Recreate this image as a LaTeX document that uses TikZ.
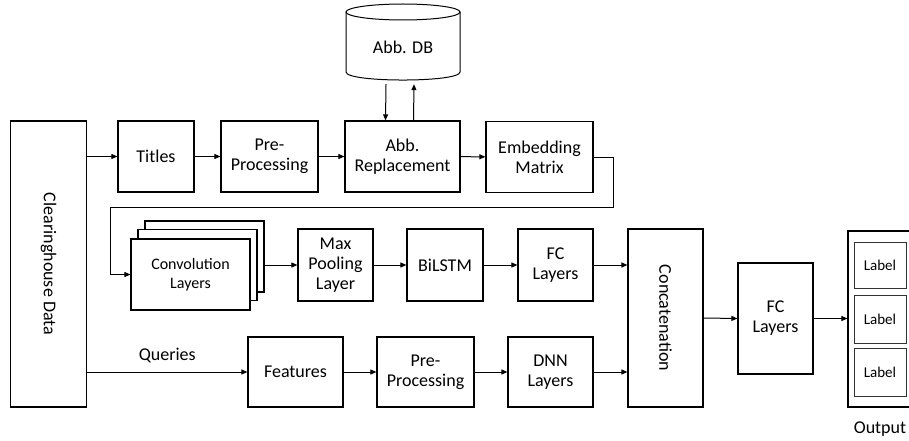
\documentclass[tikz,border=0pt]{standalone}
\usepackage{fontspec}
\setmainfont{Carlito}
\usetikzlibrary{arrows.meta,calc}
\begin{document}
\begin{tikzpicture}[x=1pt,y=-1pt,
  box/.style={draw=black,line width=1.2pt,fill=white,align=center,inner sep=0pt,
    font=\fontsize{18}{20}\selectfont},
  conv/.style={box,minimum width=119pt,minimum height=71pt,font=\fontsize{16}{19}\selectfont},
  lbl/.style={draw=black!80,line width=1pt,minimum width=52pt,inner sep=0pt,font=\fontsize{15}{18}\selectfont},
  arr/.style={line width=1pt,-{Triangle[length=6pt,width=5pt]}},
  ln/.style={line width=1pt},
  txt/.style={font=\fontsize{18}{20}\selectfont,inner sep=0pt}]
\useasboundingbox (0,0) rectangle (909,441);
\fill[white] (0,0) rectangle (909,441);

% left data box
\node[box,rotate=-90,minimum width=286pt,minimum height=76pt] (ch) at (48.5,264) {Clearinghouse Data};

% top row
\node[box,minimum width=76pt,minimum height=71pt] (titles) at (156,156.5) {Titles};
\node[box,minimum width=97pt,minimum height=71pt] (pre1) at (269.5,156.5) {Pre-\\Processing};
\node[box,minimum width=115pt,minimum height=71pt] (abbr) at (402.5,156.5) {Abb.\\Replacement};
\node[box,minimum width=107pt,minimum height=71pt] (emb) at (539.5,157) {Embedding\\Matrix};

% database cylinder
\node[minimum width=114pt,minimum height=76pt,inner sep=0pt] (db) at (403,42) {};
\draw[line width=1pt,fill=white] (346,12) -- (346,72) .. controls (346,82.7) and (460,82.7) .. (460,72) -- (460,12);
\draw[line width=1pt] (403,12) ellipse [x radius=57,y radius=8];
\node[txt] (dbt) at (403,47) {Abb. DB};

\draw[arr] ([xshift=-17pt,yshift=-4pt]db.south) -- ([xshift=-17pt]abbr.north);
\draw[arr] ([xshift=11pt]abbr.north) -- ([xshift=11pt,yshift=-4pt]db.south);

\draw[arr] (ch.north |- titles.west) -- (titles.west);
\draw[arr] (titles) -- (pre1);
\draw[arr] (pre1) -- (abbr);
\draw[arr] (abbr) -- (emb);

% feedback connector
\coordinate (fb1) at (613,207);
\coordinate (fb2) at (110,207);

% conv stack
\node[conv] (conv3) at (204.5,256.5) {};
\node[conv] (conv2) at (197.5,265) {};
\node[conv] (conv1) at (190.5,274.5) {Convolution\\Layers};
\draw[arr] (emb.east) -| (fb1) -- (fb2) |- (conv1.west);

% middle row
\node[box,minimum width=75pt,minimum height=72pt] (maxp) at (335.5,265) {Max\\Pooling\\Layer};
\node[box,minimum width=76pt,minimum height=72pt] (bilstm) at (445,265) {BiLSTM};
\node[box,minimum width=75pt,minimum height=72pt] (fc1) at (555.5,265) {FC\\Layers};
\draw[arr] (conv3.east |- maxp.west) -- (maxp.west);
\draw[arr] (maxp) -- (bilstm);
\draw[arr] (bilstm) -- (fc1);

% concat
\node[box,rotate=-90,minimum width=178pt,minimum height=75pt] (concat) at (665.5,318) {Concatenation};
\draw[arr] (fc1.east) -- (concat.south |- fc1.east);

% bottom row
\node[box,minimum width=95pt,minimum height=70pt] (feat) at (295.5,372) {Features};
\node[box,minimum width=97pt,minimum height=70pt] (pre2) at (425.5,372) {Pre-\\Processing};
\node[box,minimum width=85pt,minimum height=70pt] (dnn) at (550.5,372) {DNN\\Layers};
\draw[arr] (ch.north |- feat.west) -- node[txt,above=9pt]{Queries} (feat.west);
\draw[arr] (feat) -- (pre2);
\draw[arr] (pre2) -- (dnn);
\draw[arr] (dnn.east) -- (concat.south |- dnn.east);

% FC and output
\node[box,minimum width=75pt,minimum height=111pt] (fc2) at (775.5,318.5) {FC\\Layers};
\draw[arr] (concat.north) -- (fc2.west);
\node[draw=black,line width=1.2pt,minimum width=66pt,minimum height=176pt,inner sep=0pt] (out) at (881,319) {};
\draw[arr] (fc2.east) -- (out.west |- fc2.east);
\node[lbl,minimum height=46pt] (lab1) at (880,265) {Label};
\node[lbl,minimum height=48pt] (lab2) at (880,319) {Label};
\node[lbl,minimum height=48pt] (lab3) at (880,372) {Label};
\node[txt] (outt) at (880,429) {Output};
\end{tikzpicture}
\end{document}
